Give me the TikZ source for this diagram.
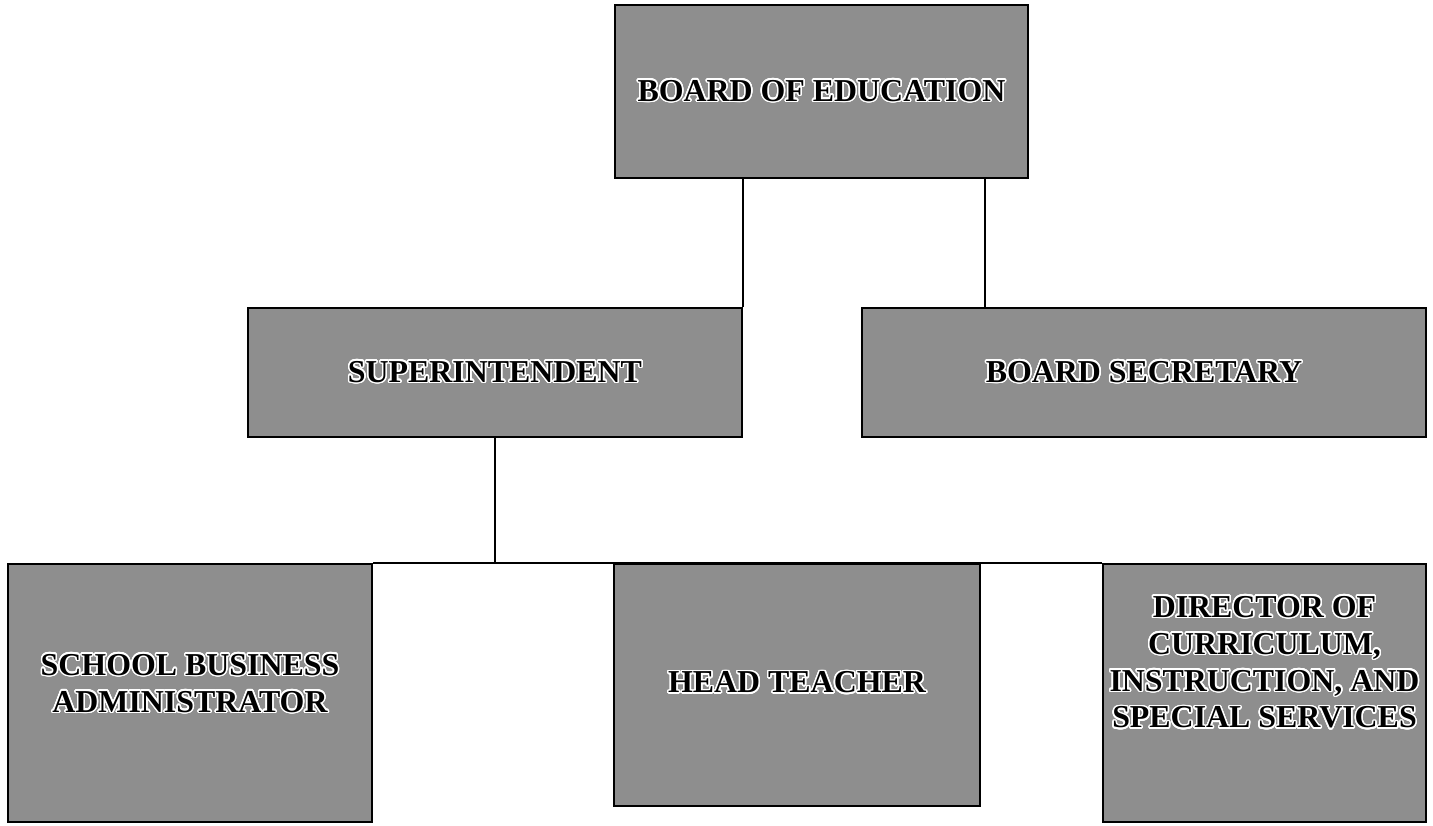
\documentclass[tikz,border=0pt]{standalone}
\usepackage{fontspec}
\setmainfont{Liberation Serif}
\usepackage{contour}
\contourlength{1.5pt}
\contournumber{24}
\definecolor{boxgray}{RGB}{142,142,142}
\begin{document}
\begin{tikzpicture}[x=1bp,y=-1bp,
  orgbox/.style={draw=black, line width=2bp, fill=boxgray, inner sep=0pt},
  orglabel/.style={align=center, inner sep=0pt,
    font=\fontsize{32}{37}\selectfont\bfseries},
  link/.style={draw=black, line width=2bp}]
\useasboundingbox (0,0) rectangle (1433,825);
\fill[white] (0,0) rectangle (1433,825);
% boxes
\node[orgbox, minimum width=413bp, minimum height=173bp] (board) at (821.5,91.5) {};
\node[orgbox, minimum width=494bp, minimum height=129bp] (super) at (495,372.5) {};
\node[orgbox, minimum width=564bp, minimum height=129bp] (sec) at (1144,372.5) {};
\node[orgbox, minimum width=364bp, minimum height=258bp] (school) at (190,693) {};
\node[orgbox, minimum width=366bp, minimum height=242bp] (head) at (797,685) {};
\node[orgbox, minimum width=323bp, minimum height=258bp] (dir) at (1264.5,693) {};
% labels
\node[orglabel] (boardt) at (board.center) {\contour{white}{BOARD OF EDUCATION}};
\node[orglabel] (supert) at (super.center) {\contour{white}{SUPERINTENDENT}};
\node[orglabel] (sect) at (sec.center) {\contour{white}{BOARD SECRETARY}};
\node[orglabel] (schoolt) at ([yshift=9bp]school.center) {\contour{white}{SCHOOL BUSINESS}\\\contour{white}{ADMINISTRATOR}};
\node[orglabel] (headt) at ([yshift=2bp]head.center) {\contour{white}{HEAD TEACHER}};
\node[orglabel] (dirt) at ([yshift=30bp]dir.center) {\contour{white}{DIRECTOR OF}\\\contour{white}{CURRICULUM,}\\\contour{white}{INSTRUCTION, AND}\\\contour{white}{SPECIAL SERVICES}};
% connectors
\coordinate (bs) at (985,178);
\draw[link] (super.north east |- board.south) -- (super.north east);
\draw[link] (bs) -- (bs |- sec.north);
\draw[link] (super.south) -- (super.south |- head.north);
\draw[link] (school.north east) -- (dir.north west);
\end{tikzpicture}
\end{document}
